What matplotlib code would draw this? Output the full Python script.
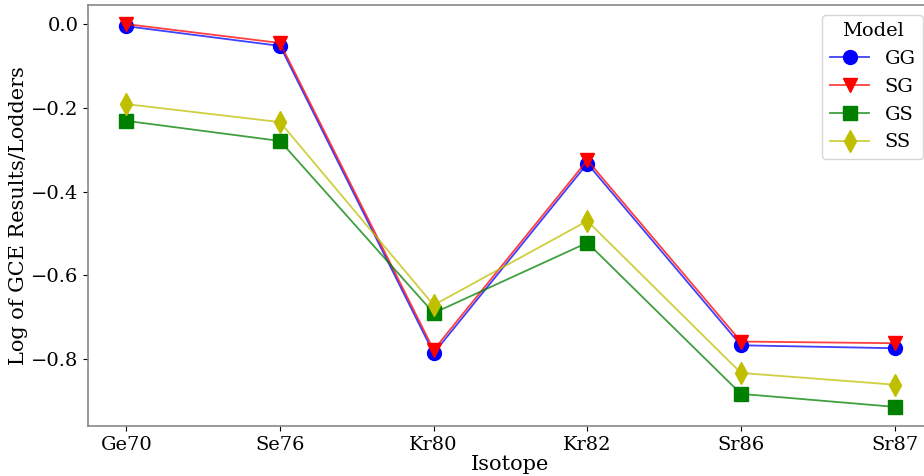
import matplotlib
matplotlib.use("Agg")
import matplotlib.pyplot as plt

isotopes = ["Ge70", "Se76", "Kr80", "Kr82", "Sr86", "Sr87"]
gg = [-0.005, -0.052, -0.786, -0.333, -0.767, -0.774]
sg = [0.0, -0.045, -0.778, -0.325, -0.758, -0.762]
gs = [-0.231, -0.279, -0.690, -0.522, -0.883, -0.914]
ss = [-0.191, -0.234, -0.671, -0.470, -0.833, -0.861]

plt.rcParams['font.family'] = 'DejaVu Serif'

fig = plt.figure(figsize=(9.24, 4.76), dpi=100)
ax = fig.add_axes([88/924, 50/476, 845/924, 421/476])

series = [(gg, 'GG', (0, 0, 1), 'o', 10),
          (sg, 'SG', (1, 0, 0), 'v', 10),
          (gs, 'GS', (0, 0.5, 0), 's', 10),
          (ss, 'SS', (0.75, 0.75, 0), 'd', 11)]
for vals, lab, c, m, ms in series:
    ax.plot(isotopes, vals, color=c + (0.75,), marker=m, markersize=ms,
            markerfacecolor=c, markeredgecolor=c, linewidth=1.3, label=lab)

ax.set_xlabel('Isotope', fontsize=15, labelpad=1)
ax.set_ylabel('Log of GCE Results/Lodders', fontsize=15, labelpad=2)
ax.tick_params(labelsize=14)
for s in ax.spines.values():
    s.set_color('#888888')
    s.set_linewidth(1.2)

leg = ax.legend(title='Model', fontsize=14, title_fontsize=14, loc='upper right')

fig.savefig('out.png', dpi=100)
